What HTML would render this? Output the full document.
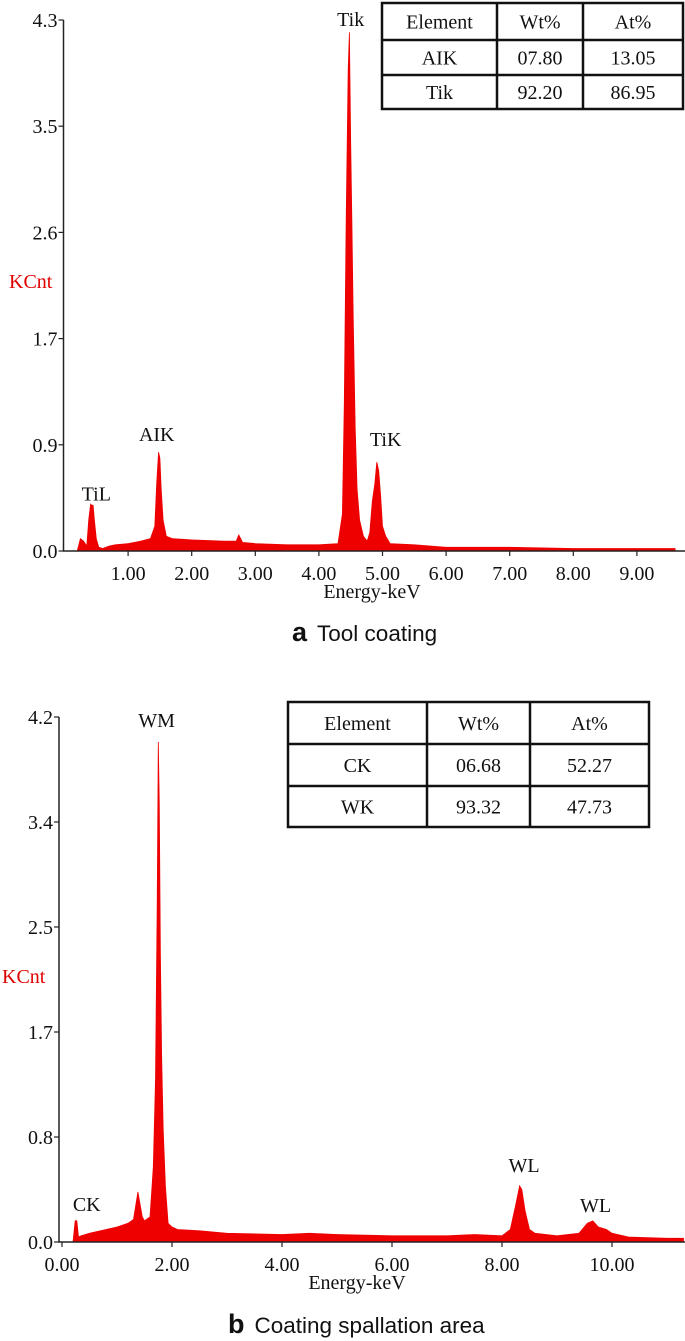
<!DOCTYPE html>
<html><head><meta charset="utf-8"><style>
html,body{margin:0;padding:0;background:#fff;}
svg{display:block;}
.t{font-family:"Liberation Serif",serif;font-size:20px;fill:#111;}
.cap{font-family:"Liberation Sans",sans-serif;font-size:22.5px;fill:#111;}
</style></head><body>
<svg id="s" width="685" height="1341" viewBox="0 0 685 1341" xmlns="http://www.w3.org/2000/svg">
<g id="ga"></g>
<g id="gb"></g>
</svg>
<script>
// ---- Chart A data ----
const aEnergy = [0.2,0.25,0.3,0.35,0.38,0.41,0.43,0.45,0.47,0.5,0.54,0.6,0.7,0.8,1.0,1.2,1.35,1.42,1.45,1.48,1.5,1.52,1.55,1.6,1.7,2.0,2.5,2.7,2.74,2.8,3.0,3.5,4.0,4.3,4.37,4.4,4.43,4.46,4.48,4.5,4.52,4.54,4.57,4.6,4.64,4.7,4.76,4.8,4.84,4.88,4.91,4.94,4.97,5.0,5.05,5.12,5.5,6.0,7.0,8.0,9.0,9.6];
const aCounts = [0,0.1,0.08,0.04,0.25,0.38,0.37,0.37,0.25,0.1,0.03,0.02,0.04,0.05,0.06,0.08,0.1,0.2,0.55,0.8,0.75,0.5,0.25,0.12,0.1,0.09,0.08,0.08,0.13,0.07,0.06,0.05,0.05,0.06,0.3,1.2,2.7,3.9,4.2,3.3,2.6,1.9,1.0,0.5,0.25,0.12,0.08,0.15,0.4,0.55,0.72,0.65,0.45,0.2,0.12,0.06,0.05,0.03,0.03,0.02,0.02,0.02];
const aYTicks = ["0.0","0.9","1.7","2.6","3.5","4.3"];
const aXTicks = [1,2,3,4,5,6,7,8,9];
const aPeakLabels = ["TiL","AIK","Tik","TiK"];
const aPeakE = [0.5,1.45,4.5,5.05];
const aPeakV = [0.41,0.89,4.25,0.85];
const aTable = [["Element","Wt%","At%"],["AIK","07.80","13.05"],["Tik","92.20","86.95"]];
// ---- Chart B data ----
const bEnergy = [0.0,0.2,0.24,0.27,0.3,0.35,0.5,0.8,1.0,1.2,1.3,1.35,1.38,1.42,1.46,1.5,1.6,1.66,1.7,1.73,1.75,1.77,1.79,1.81,1.84,1.88,1.93,2.0,2.1,2.5,3.0,4.0,4.5,5.0,6.0,7.0,7.5,8.0,8.15,8.25,8.32,8.36,8.42,8.5,8.6,9.0,9.4,9.55,9.65,9.75,9.9,10.0,10.3,11.0,11.3];
const bCounts = [0,0,0.17,0.17,0.04,0.05,0.07,0.1,0.12,0.15,0.18,0.32,0.4,0.3,0.2,0.17,0.2,0.6,1.3,2.7,4.0,3.5,2.3,1.5,0.9,0.45,0.15,0.12,0.1,0.09,0.07,0.06,0.07,0.06,0.05,0.05,0.06,0.05,0.1,0.3,0.45,0.42,0.25,0.1,0.07,0.05,0.07,0.15,0.17,0.12,0.1,0.07,0.04,0.03,0.03];
const bYTicks = ["0.0","0.8","1.7","2.5","3.4","4.2"];
const bXTicks = [0,2,4,6,8,10];
const bPeakLabels = ["CK","WM","WL","WL"];
const bPeakE = [0.45,1.72,8.4,9.7];
const bPeakV = [0.25,4.12,0.56,0.24];
const bTable = [["Element","Wt%","At%"],["CK","06.68","52.27"],["WK","93.32","47.73"]];

const NS="http://www.w3.org/2000/svg";
function mk(p,tag,at,txt){const e=document.createElementNS(NS,tag);for(const k in at)e.setAttribute(k,at[k]);if(txt!==undefined)e.textContent=txt;p.appendChild(e);return e;}

function chart(g,cfg){
  const xs=e=>cfg.x0+e*cfg.pxk;
  const ys=v=>cfg.base-v*(cfg.base-cfg.top)/cfg.ymax;
  let d="M"+xs(cfg.E[0])+","+ys(0);
  for(let i=0;i<cfg.E.length;i++) d+=" L"+xs(cfg.E[i]).toFixed(1)+","+ys(cfg.C[i]).toFixed(1);
  d+=" L"+xs(cfg.E[cfg.E.length-1])+","+ys(0)+"Z";
  const sp=mk(g,"path",{d:d,fill:"#ee0000",stroke:"#ee0000","stroke-width":"0.8"});
  
  
  const ax=mk(g,"path",{d:`M${cfg.ax},${cfg.top} V${cfg.base} H685`,stroke:"#222","stroke-width":"1.5",fill:"none"});
  
  
  cfg.yt.forEach((t,i)=>{
    const y=ys(i*cfg.ymax/(cfg.yt.length-1));
    mk(g,"line",{x1:cfg.ax-5,x2:cfg.ax,y1:y,y2:y,stroke:"#222","stroke-width":"1.2"});
    const tx=mk(g,"text",{x:cfg.ax-6,y:y+7,"text-anchor":"end",class:"t"},t);
    
    
  });
  cfg.xt.forEach(v=>{
    const x=xs(v);
    mk(g,"line",{x1:x,x2:x,y1:cfg.base,y2:cfg.base+5,stroke:"#222","stroke-width":"1.2"});
    const tx=mk(g,"text",{x:x,y:cfg.base+29,"text-anchor":"middle",class:"t"},v.toFixed(2));
    
    
  });
  const yl=mk(g,"text",{x:cfg.ylx,y:cfg.yly,class:"t",style:"fill:#e00000"},"KCnt");
  
  
  const xl=mk(g,"text",{x:cfg.xlx,y:cfg.base+47,"text-anchor":"middle",class:"t"},"Energy-keV");
  
  
  cfg.pl.forEach((l,i)=>{
    const tx=mk(g,"text",{x:xs(cfg.pe[i]),y:ys(cfg.pv[i]),"text-anchor":"middle",class:"t"},l);
    
    
  });
  const T=cfg.tab, tb=mk(g,"g",{});
  
  
  mk(tb,"rect",{x:T.x[0],y:T.y[0],width:T.x[3]-T.x[0],height:T.y[3]-T.y[0],fill:"#fff",stroke:"#111","stroke-width":"2.5"});
  [1,2].forEach(i=>{mk(tb,"line",{x1:T.x[i],x2:T.x[i],y1:T.y[0],y2:T.y[3],stroke:"#111","stroke-width":"2.5"});
    mk(tb,"line",{x1:T.x[0],x2:T.x[3],y1:T.y[i],y2:T.y[i],stroke:"#111","stroke-width":"2.5"});});
  cfg.rows.forEach((r,ri)=>r.forEach((c,ci)=>{
    const tx=mk(tb,"text",{x:(T.x[ci]+T.x[ci+1])/2,y:(T.y[ri]+T.y[ri+1])/2+7,"text-anchor":"middle",class:"t"},c);
    
    
  }));
  const cp=mk(g,"text",{x:cfg.capx,y:cfg.capy,class:"cap"});
  
  
  mk(cp,"tspan",{"font-weight":"bold","font-size":"27"},cfg.capL);
  mk(cp,"tspan",{dx:"10"},cfg.capT);
}
chart(document.getElementById("ga"),{E:aEnergy,C:aCounts,yt:aYTicks,xt:aXTicks,pl:aPeakLabels,pe:aPeakE,pv:aPeakV,rows:aTable,
  x0:64.5,pxk:63.6,ax:63.5,top:20,base:551,ymax:4.3,ylx:9,yly:288,xlx:372,
  tab:{x:[382,497,583,683],y:[3,40,75,109]},capx:292,capy:641,capL:"a",capT:"Tool coating"});
chart(document.getElementById("gb"),{E:bEnergy,C:bCounts,yt:bYTicks,xt:bXTicks,pl:bPeakLabels,pe:bPeakE,pv:bPeakV,rows:bTable,
  x0:62,pxk:55,ax:59,top:717,base:1242,ymax:4.2,ylx:2,yly:983,xlx:357,
  tab:{x:[288,427,530,649],y:[702,744,786,827]},capx:228,capy:1333,capL:"b",capT:"Coating spallation area"});
</script>
</body></html>
